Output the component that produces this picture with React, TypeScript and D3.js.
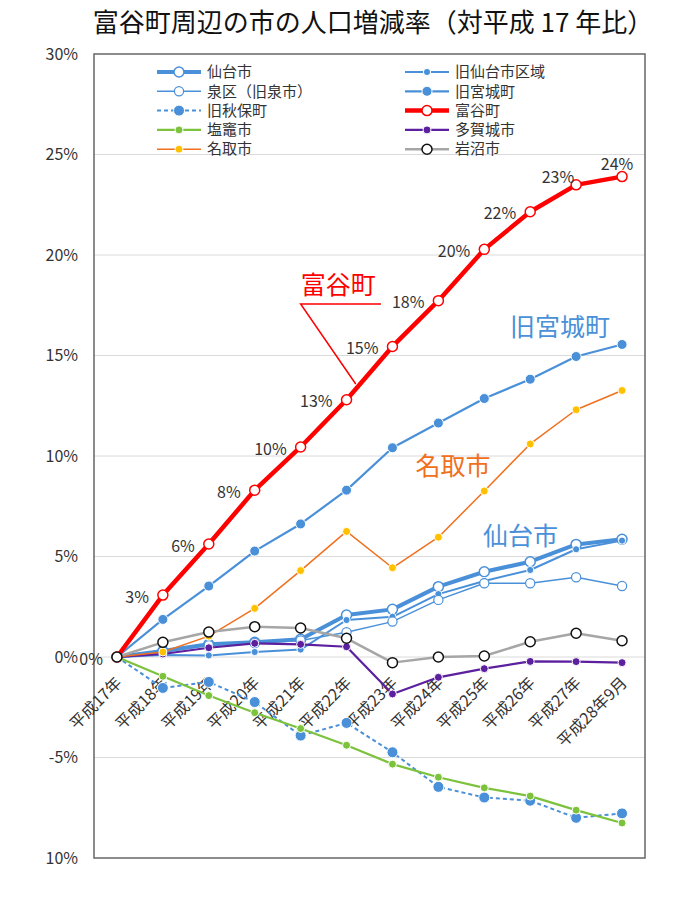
import React from 'react';
import * as d3 from 'd3';

const categories = ['平成17年', '平成18年', '平成19年', '平成20年', '平成21年', '平成22年', '平成23年', '平成24年', '平成25年', '平成26年', '平成27年', '平成28年9月'];

const sendai = [0, 0.3, 0.63, 0.73, 0.88, 2.09, 2.37, 3.5, 4.24, 4.74, 5.6, 5.86];
const kyuSendai = [0, 0.1, 0.08, 0.25, 0.37, 1.84, 2.0, 3.13, 3.78, 4.33, 5.36, 5.79];
const izumi = [0, 0.25, 0.58, 0.7, 0.82, 1.23, 1.76, 2.84, 3.67, 3.67, 3.97, 3.53];
const kyuMiyagi = [0, 1.87, 3.53, 5.27, 6.62, 8.3, 10.41, 11.64, 12.86, 13.82, 14.95, 15.55];
const kyuAkiu = [0, -1.54, -1.24, -2.24, -3.91, -3.28, -4.74, -6.46, -6.99, -7.15, -8.0, -7.78];
const tomiya = [0, 3.08, 5.62, 8.3, 10.45, 12.8, 15.45, 17.73, 20.28, 22.15, 23.49, 23.9];
const shiogama = [0, -0.96, -1.92, -2.77, -3.56, -4.39, -5.33, -5.98, -6.51, -6.92, -7.62, -8.26];
const tagajo = [0, 0.15, 0.46, 0.68, 0.63, 0.51, -1.84, -1.01, -0.58, -0.22, -0.23, -0.28];
const natori = [0, 0.25, 1.04, 2.42, 4.3, 6.25, 4.44, 5.96, 8.26, 10.6, 12.3, 13.26];
const iwanuma = [0, 0.73, 1.24, 1.51, 1.44, 0.93, -0.28, 0.0, 0.05, 0.76, 1.18, 0.81];

const tomiyaLabels = ['0%', '3%', '6%', '8%', '10%', '13%', '15%', '18%', '20%', '22%', '23%', '24%'];
const tomiyaLabelPlace = ['left', 'left', 'left', 'left', 'left', 'left', 'left', 'left', 'left', 'left', 'upleft', 'above'];

const yTicks = [30, 25, 20, 15, 10, 5, 0, -5, -10];
const yTickLabels = ['30%', '25%', '20%', '15%', '10%', '5%', '0%', '-5%', '10%'];

const title = '富谷町周辺の市の人口増減率（対平成 17 年比）';

const BLUE = '#4a90d9';
const FONT = '"Noto Sans CJK JP", "Noto Sans", sans-serif';

type Style = {
  name: string;
  values: number[];
  color: string;
  width: number;
  dash?: string;
  r: number;
  fill: string;
  mStroke: string;
  mStrokeW: number;
};

const series: Style[] = [
  { name: '仙台市', values: sendai, color: BLUE, width: 4, r: 5, fill: '#fff', mStroke: BLUE, mStrokeW: 1.5 },
  { name: '旧仙台市区域', values: kyuSendai, color: BLUE, width: 2, r: 3.6, fill: BLUE, mStroke: '#fff', mStrokeW: 1 },
  { name: '泉区（旧泉市）', values: izumi, color: BLUE, width: 1.4, r: 4.6, fill: '#fff', mStroke: BLUE, mStrokeW: 1.2 },
  { name: '旧宮城町', values: kyuMiyagi, color: BLUE, width: 2.2, r: 5, fill: BLUE, mStroke: '#fff', mStrokeW: 1 },
  { name: '旧秋保町', values: kyuAkiu, color: BLUE, width: 2, dash: '4,3', r: 5.5, fill: BLUE, mStroke: '#fff', mStrokeW: 1 },
  { name: '富谷町', values: tomiya, color: '#ff0000', width: 4.5, r: 5, fill: '#fff', mStroke: '#ff0000', mStrokeW: 1.5 },
  { name: '塩竈市', values: shiogama, color: '#7cc23c', width: 2.2, r: 4, fill: '#7cc23c', mStroke: '#fff', mStrokeW: 1 },
  { name: '多賀城市', values: tagajo, color: '#5c1f9e', width: 2.2, r: 4, fill: '#5c1f9e', mStroke: '#fff', mStrokeW: 1 },
  { name: '名取市', values: natori, color: '#f0701e', width: 1.5, r: 4, fill: '#ffc000', mStroke: '#fff', mStrokeW: 1 },
  { name: '岩沼市', values: iwanuma, color: '#a6a6a6', width: 2.5, r: 5, fill: '#fff', mStroke: '#111', mStrokeW: 1.5 },
];

const W = 677;
const H = 901;
const L = 94;
const R = 645;
const T = 54;
const B = 858;

export default function App() {
  const x = d3.scalePoint<string>().domain(categories).range([L, R]).padding(0.5);
  const y = d3.scaleLinear().domain([-10, 30]).range([B, T]);
  const xi = (i: number) => (x(categories[0]) as number) + i * x.step();

  const line = (vals: number[]) =>
    d3.line<number>().x((_, i) => x(categories[i]) as number).y((v) => y(v))(vals) || '';

  const rowH = 19.3;
  const legendCols = [157, 405];

  return (
    <svg width={W} height={H} style={{ position: 'absolute', left: 0, top: 0, fontFamily: FONT }}>
      <rect x={0} y={0} width={W} height={H} fill="#fff" />
      <text x={373} y={32} textAnchor="middle" fontSize={26} fill="#111">{title}</text>

      {yTicks.map((t) =>
        t < 30 && t > -10 ? (
          <line key={'g' + t} x1={L} x2={R} y1={y(t)} y2={y(t)} stroke="#dadada" strokeWidth={1} />
        ) : null
      )}
      <rect x={L} y={T} width={R - L} height={B - T} fill="none" stroke="#666" strokeWidth={1.5} />

      {yTicks.map((t, i) => (
        <text key={'yl' + t} x={78} y={y(t)} dy="0.35em" textAnchor="end" fontSize={16} fill="#333">
          {yTickLabels[i]}
        </text>
      ))}

      {categories.map((c) => (
        <text
          key={'xl' + c}
          transform={`translate(${(x(c) as number) + 2},${680}) rotate(-45)`}
          textAnchor="end"
          dy="0.35em"
          fontSize={16}
          fill="#333"
        >
          {c}
        </text>
      ))}

      {/* legend */}
      {series.map((s, i) => {
        const col = i % 2;
        const row = Math.floor(i / 2);
        const lx = legendCols[col];
        const ly = 72 + row * rowH;
        return (
          <g key={'lg' + s.name}>
            <line x1={lx} x2={lx + 44} y1={ly} y2={ly} stroke={s.color} strokeWidth={s.width} strokeDasharray={s.dash} />
            <circle cx={lx + 22} cy={ly} r={s.r} fill={s.fill} stroke={s.mStroke} strokeWidth={s.mStrokeW} />
            <text x={lx + 50} y={ly} dy="0.35em" fontSize={15} fill="#333">{s.name}</text>
          </g>
        );
      })}

      {/* series */}
      {series.map((s) => (
        <g key={'s' + s.name}>
          <path d={line(s.values)} fill="none" stroke={s.color} strokeWidth={s.width} strokeDasharray={s.dash} strokeLinejoin="round" />
          {s.values.map((v, i) => (
            <circle key={i} cx={x(categories[i]) as number} cy={y(v)} r={s.r} fill={s.fill} stroke={s.mStroke} strokeWidth={s.mStrokeW} />
          ))}
        </g>
      ))}

      {/* 富谷町 data labels */}
      {tomiya.map((v, i) => {
        const px = x(categories[i]) as number;
        const py = y(v);
        const place = tomiyaLabelPlace[i];
        let tx = px - 14;
        let ty = py + 2;
        let anchor: 'end' | 'middle' = 'end';
        if (place === 'upleft') {
          tx = px - 2;
          ty = py - 7;
        } else if (place === 'above') {
          tx = px - 5;
          ty = py - 12;
          anchor = 'middle';
        }
        return (
          <text key={'tl' + i} x={tx} y={ty} dy="0.35em" textAnchor={anchor} fontSize={16} fill="#333">
            {tomiyaLabels[i]}
          </text>
        );
      })}

      {/* annotations */}
      <text x={xi(4.0)} y={y(18.08)} fontSize={25} fill="#ff0000">富谷町</text>
      <polyline
        points={`${xi(5.75)},${y(17.56)} ${xi(4.0)},${y(17.56)} ${xi(5.2)},${y(13.58)}`}
        fill="none"
        stroke="#ff0000"
        strokeWidth={1.5}
      />
      <text x={xi(8.56)} y={y(15.97)} fontSize={25} fill={BLUE}>旧宮城町</text>
      <text x={xi(6.5)} y={y(9.03)} fontSize={25} fill="#f0701e">名取市</text>
      <text x={xi(7.97)} y={y(5.55)} fontSize={25} fill={BLUE}>仙台市</text>
    </svg>
  );
}
